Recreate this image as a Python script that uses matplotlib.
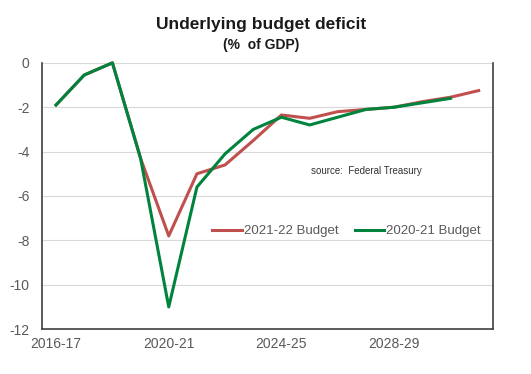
import numpy as np
import matplotlib.pyplot as plt

plt.rcParams['font.family'] = ['Liberation Sans', 'DejaVu Sans']
plt.rcParams['axes.unicode_minus'] = False

years = ['2016-17', '2017-18', '2018-19', '2019-20', '2020-21', '2021-22',
         '2022-23', '2023-24', '2024-25', '2025-26', '2026-27', '2027-28',
         '2028-29', '2029-30', '2030-31', '2031-32']
budget_2122 = [-1.9, -0.55, 0.0, -4.3, -7.8, -5.0, -4.6, -3.5, -2.35, -2.5,
               -2.2, -2.1, -2.0, -1.75, -1.55, -1.25]
budget_2021 = [-1.9, -0.55, 0.0, -4.3, -11.0, -5.6, -4.1, -3.0, -2.45, -2.8,
               -2.45, -2.1, -2.0, -1.8, -1.6]

red = '#C0504D'
green = '#00843D'

fig = plt.figure(figsize=(5.31, 3.74), dpi=100)
ax = fig.add_axes([0.079, 0.12, 0.849, 0.712])

x = np.arange(len(years))
ax.plot(x, budget_2122, color=red, lw=2.2, label='2021-22 Budget', clip_on=False)
ax.plot(x[:len(budget_2021)], budget_2021, color=green, lw=2.2,
        label='2020-21 Budget', clip_on=False)

ax.set_xlim(-0.5, 15.5)
ax.set_ylim(-12, 0)
ax.set_yticks(np.arange(-12, 1, 2))
ax.set_xticks(x[::4])
ax.set_xticklabels(years[::4])
ax.tick_params(length=0, labelsize=10, labelcolor='#595959')
ax.tick_params(axis='y', pad=9)
ax.tick_params(axis='x', pad=6)
ax.grid(axis='y', color='#d9d9d9', lw=0.8)
ax.set_axisbelow(True)
for s in ['left', 'right', 'bottom']:
    ax.spines[s].set_color('#404040')
    ax.spines[s].set_linewidth(1.2)
ax.spines['top'].set_visible(False)

ax.legend(loc='lower right', bbox_to_anchor=(1.0, 0.3), ncol=2, frameon=False,
          fontsize=9.5, labelcolor='#595959', handlelength=2.2, handletextpad=0.2,
          columnspacing=1.2)
ax.text(0.72, 0.595, 'source:  Federal Treasury', transform=ax.transAxes,
        fontsize=7, color='#333333', ha='center', va='center')

fig.text(0.492, 0.935, 'Underlying budget deficit', ha='center', va='center',
         fontsize=12.5, fontweight='bold', color='#1a1a1a')
fig.text(0.492, 0.88, '(%  of GDP)', ha='center', va='center',
         fontsize=10, fontweight='bold', color='#1a1a1a')

fig.savefig('out.png', dpi=100)
